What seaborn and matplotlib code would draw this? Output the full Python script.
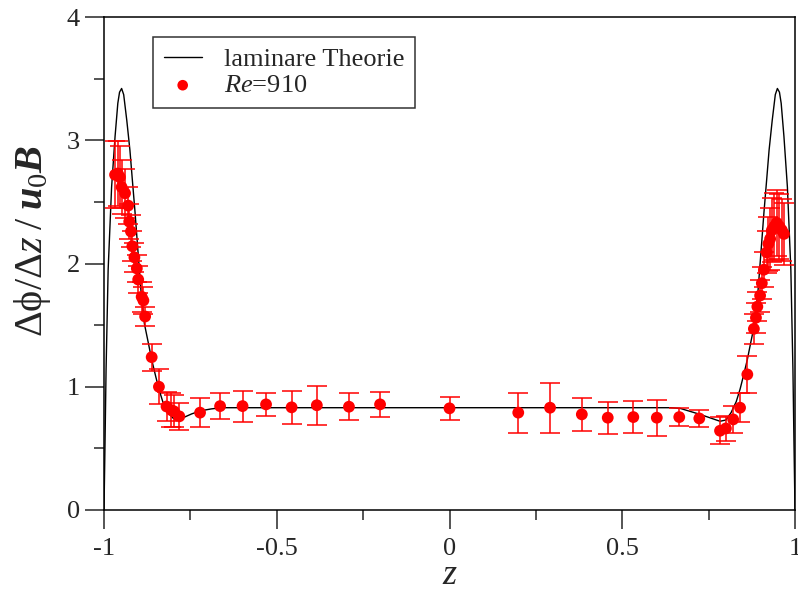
import matplotlib
matplotlib.use("Agg")
import matplotlib.pyplot as plt
import seaborn as sns
import numpy as np
import pandas as pd

# ---- theory curve ----
theory_z = [-1.0, -0.997, -0.994, -0.988, -0.978, -0.968, -0.960, -0.955, -0.949,
            -0.943, -0.934, -0.925, -0.918, -0.910, -0.902, -0.893, -0.883, -0.872,
            -0.862, -0.850, -0.841, -0.830, -0.815, -0.800, -0.790, -0.770, -0.746,
            -0.720, -0.690, -0.660, 0.0, 0.640, 0.667, 0.725, 0.783, 0.800, 0.815,
            0.830, 0.841, 0.850, 0.862, 0.872, 0.883, 0.893, 0.902, 0.910, 0.918,
            0.925, 0.934, 0.943, 0.949, 0.955, 0.960, 0.968, 0.978, 0.988, 0.994,
            0.997, 1.0]
theory_v = [0.0, 0.55, 1.14, 1.95, 2.62, 3.03, 3.30, 3.39, 3.42,
            3.37, 3.16, 2.92, 2.68, 2.41, 2.11, 1.78, 1.51, 1.36,
            1.22, 1.08, 0.98, 0.88, 0.79, 0.745, 0.73, 0.75, 0.78,
            0.805, 0.82, 0.83, 0.83, 0.83, 0.825, 0.776, 0.72, 0.73, 0.79,
            0.88, 0.98, 1.08, 1.22, 1.36, 1.51, 1.78, 2.11, 2.41, 2.68,
            2.92, 3.16, 3.37, 3.42, 3.39, 3.30, 3.03, 2.62, 1.95, 1.14,
            0.55, 0.0]

# ---- measurements Re=910 ----
meas_z = [-0.968, -0.960, -0.954, -0.949, -0.939, -0.930, -0.927, -0.922, -0.918,
          -0.912, -0.905, -0.901, -0.891, -0.886, -0.881, -0.862, -0.841, -0.819,
          -0.805, -0.797, -0.782, -0.722, -0.664, -0.599, -0.531, -0.457, -0.384,
          -0.291, -0.201, 0.0, 0.199, 0.291, 0.383, 0.458, 0.532, 0.600, 0.665,
          0.723, 0.783, 0.800, 0.821, 0.841, 0.862, 0.881, 0.887, 0.891, 0.899,
          0.904, 0.910, 0.918, 0.923, 0.928, 0.933, 0.940, 0.947, 0.955, 0.962, 0.968]
meas_v = [2.72, 2.73, 2.70, 2.62, 2.57, 2.47, 2.34, 2.26, 2.14,
          2.05, 1.96, 1.87, 1.73, 1.70, 1.57, 1.24, 1.00, 0.84,
          0.81, 0.80, 0.76, 0.79, 0.843, 0.843, 0.857, 0.833, 0.85,
          0.838, 0.857, 0.825, 0.79, 0.83, 0.776, 0.749, 0.754, 0.749, 0.754,
          0.743, 0.643, 0.662, 0.735, 0.83, 1.10, 1.47, 1.56, 1.65, 1.74,
          1.84, 1.95, 2.09, 2.16, 2.20, 2.27, 2.30, 2.33, 2.30, 2.27, 2.24]
meas_err = [0.27, 0.26, 0.25, 0.22, 0.20, 0.15, 0.14, 0.13, 0.12,
            0.12, 0.11, 0.11, 0.12, 0.11, 0.08, 0.11, 0.14, 0.12,
            0.14, 0.13, 0.11, 0.12, 0.105, 0.125, 0.093, 0.135, 0.157,
            0.108, 0.101, 0.092, 0.162, 0.203, 0.131, 0.13, 0.132, 0.146, 0.073,
            0.068, 0.108, 0.10, 0.11, 0.12, 0.15, 0.12, 0.12, 0.12, 0.13,
            0.13, 0.14, 0.17, 0.22, 0.25, 0.26, 0.27, 0.27, 0.26, 0.25, 0.25]

x_ticks = [-1, -0.5, 0, 0.5, 1]
x_ticklabels = ["-1", "-0.5", "0", "0.5", "1"]
y_ticks = [0, 1, 2, 3, 4]
y_ticklabels = ["0", "1", "2", "3", "4"]

sns.set_style("ticks")
plt.rcParams["font.family"] = ["Liberation Serif", "DejaVu Serif"]
plt.rcParams["mathtext.fontset"] = "custom"
plt.rcParams["mathtext.rm"] = "Liberation Serif"
plt.rcParams["mathtext.it"] = "Liberation Serif:italic"
plt.rcParams["mathtext.bf"] = "Liberation Serif:bold"
plt.rcParams["mathtext.bfit"] = "Liberation Serif:italic:bold"

theory = pd.DataFrame({"z": theory_z, "v": theory_v})
meas = pd.DataFrame({"z": meas_z, "v": meas_v, "e": meas_err})

fig = plt.figure(figsize=(7.98, 5.97), dpi=100)
ax = fig.add_axes([104 / 798, 1 - 510 / 597, 691 / 798, 493 / 597])

sns.lineplot(data=theory, x="z", y="v", ax=ax, color="black", linewidth=1.0,
             sort=False, estimator=None, label="laminare Theorie")
ax.errorbar(meas["z"], meas["v"], yerr=meas["e"], fmt="none", ecolor="red",
            elinewidth=1.1, capsize=7, capthick=1.1, zorder=3)
sns.scatterplot(data=meas, x="z", y="v", ax=ax, color="red", s=72,
                edgecolor="none", zorder=4, label=r"$Re$=910")

ax.set_xlim(-1, 1)
ax.set_ylim(0, 4)
ax.set_xticks(x_ticks)
ax.set_xticklabels(x_ticklabels)
ax.set_yticks(y_ticks)
ax.set_yticklabels(y_ticklabels)
ax.set_xticks([-0.75, -0.25, 0.25, 0.75], minor=True)
ax.set_yticks([0.5, 1.5, 2.5, 3.5], minor=True)
ax.tick_params(which="major", length=13.5, width=1.1, labelsize=19, direction="out")
ax.tick_params(axis="x", which="major", pad=7)
ax.tick_params(axis="y", which="major", pad=4)
ax.tick_params(which="minor", length=7, width=1.1, direction="out")
for s in ax.spines.values():
    s.set_visible(True)
    s.set_linewidth(1.1)
    s.set_color("black")

ax.set_xlabel(r"$z$", fontsize=26)
ax.xaxis.set_label_coords(0.5, -0.1)
ax.set_ylabel(r"$\Delta\mathrm{\phi}/\Delta z\;/\;\mathbfit{u}_{\mathit{0}}\mathbfit{B}$",
              fontsize=29)
ax.yaxis.set_label_coords(-0.074, 0.545)

leg = ax.legend(loc="upper left", bbox_to_anchor=((153 - 104) / 691, (510 - 37) / 493),
                borderaxespad=0, fontsize=19, frameon=True, fancybox=False,
                edgecolor="black", handlelength=1.45, handletextpad=0.85,
                labelspacing=0.1, borderpad=0.4, markerscale=0.9)
leg.get_frame().set_linewidth(1.1)

fig.savefig("out.png", dpi=100)
